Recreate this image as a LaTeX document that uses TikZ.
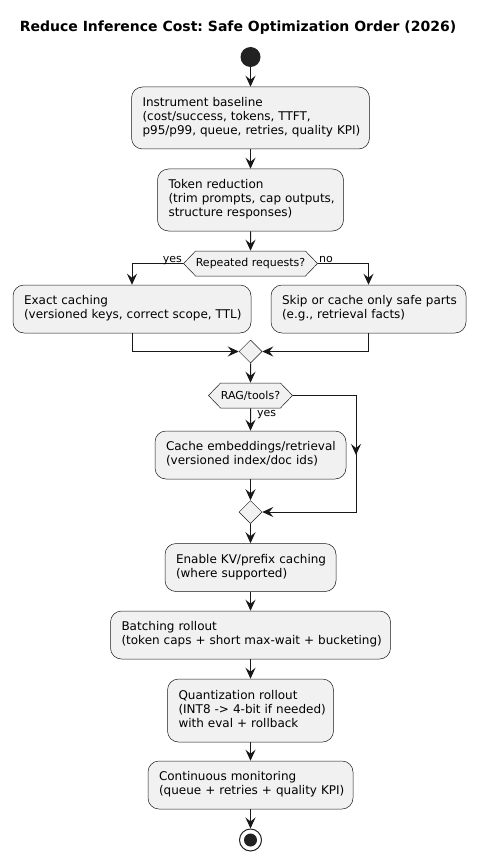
\documentclass[tikz,border=0pt]{standalone}
\usepackage{fontspec}
\setmainfont{DejaVu Sans}
\usetikzlibrary{arrows.meta,shapes.geometric,shapes.symbols}
\definecolor{actfill}{HTML}{F1F1F1}
\definecolor{actline}{HTML}{181818}
\definecolor{startc}{HTML}{222222}
\newcommand\lns[1]{\begin{tabular}{@{}l@{}}#1\end{tabular}}
\frenchspacing
\begin{document}
\begin{tikzpicture}[x=1pt,y=-1pt,
  act/.style={draw=actline, line width=0.5pt, fill=actfill, rounded corners=11pt,
    inner xsep=11pt, inner ysep=0pt, align=left, font=\fontsize{12}{14}\selectfont, text=black},
  arr/.style={draw=actline, line width=1pt, -{Stealth[length=11pt,width=10pt,inset=4pt]}},
  plain/.style={draw=actline, line width=1pt},
  hex/.style={shape=signal, signal to=east and west, signal pointer angle=92,
    draw=actline, line width=0.5pt, fill=actfill, inner sep=0pt, font=\fontsize{11}{13}\selectfont},
  merge/.style={diamond, draw=actline, line width=0.5pt, fill=actfill,
    minimum width=23pt, minimum height=23pt, inner sep=0pt},
  lbl/.style={font=\fontsize{11}{13}\selectfont, inner sep=0pt}]
\useasboundingbox (0,0) rectangle (478,861);

\node[font=\fontsize{14}{17}\selectfont\bfseries] (title) at (238,28) {Reduce Inference Cost: Safe Optimization Order (2026)};

\node[circle, fill=startc, minimum size=20pt, inner sep=0pt] (start) at (250.5,57) {};
\node[act, text width=216pt, minimum height=62pt] (b1) at (250.5,118)
  {\lns{Instrument baseline\\(cost/success, tokens, TTFT,\\p95/p99, queue, retries, quality KPI)}};
\node[act, text width=164pt, minimum height=62pt] (b2) at (250.5,200)
  {\lns{Token reduction\\(trim prompts, cap outputs,\\structure responses)}};
\node[hex, minimum width=134pt, minimum height=25pt] (h1) at (250.5,263.5) {Repeated requests?};
\node[act, text width=216pt, minimum height=48pt] (b3) at (132,309)
  {\lns{Exact caching\\(versioned keys, correct scope, TTL)}};
\node[act, text width=173pt, minimum height=48pt] (b4) at (368.5,309)
  {\lns{Skip or cache only safe parts\\(e.g., retrieval facts)}};
\node[merge] (m1) at (250.5,351.5) {};
\node[hex, minimum width=84pt, minimum height=25pt] (h2) at (250.5,395.5) {RAG/tools?};
\node[act, text width=169pt, minimum height=48pt] (b5) at (250.5,455)
  {\lns{Cache embeddings/retrieval\\(versioned index/doc ids)}};
\node[merge] (m2) at (250.5,512) {};
\node[act, text width=149pt, minimum height=48pt] (b6) at (250.5,567.5)
  {\lns{Enable KV/prefix caching\\(where supported)}};
\node[act, text width=258pt, minimum height=48pt] (b7) at (250.5,635)
  {\lns{Batching rollout\\(token caps + short max-wait + bucketing)}};
\node[act, text width=144pt, minimum height=63pt] (b8) at (250.5,710.5)
  {\lns{Quantization rollout\\(INT8 -> 4-bit if needed)\\with eval + rollback}};
\node[act, text width=183pt, minimum height=48pt] (b9) at (250.5,785)
  {\lns{Continuous monitoring\\(queue + retries + quality KPI)}};
\node[circle, draw=startc, line width=1pt, fill=white, minimum size=22pt, inner sep=0pt] (end) at (250.5,840) {};
\node[circle, fill=startc, minimum size=13pt, inner sep=0pt] (endin) at (end.center) {};

\draw[arr] (start) -- (b1);
\draw[arr] (b1) -- (b2);
\draw[arr] (b2) -- (h1);
\draw[arr] (h1.west) -| (b3.north);
\draw[arr] (h1.east) -| (b4.north);
\node[lbl, anchor=base east] (ly1) at ([xshift=-1pt,yshift=1.5pt]h1.west) {yes};
\node[lbl, anchor=base west] (ln1) at ([xshift=1pt,yshift=1.5pt]h1.east) {no};
\draw[arr] (b3.south) |- (m1.west);
\draw[arr] (b4.south) |- (m1.east);
\draw[arr] (m1) -- (h2);
\draw[arr] (h2) -- (b5);
\node[lbl, anchor=base west] (ly2) at (257,416) {yes};
\coordinate (c1) at (356,395.5);
\coordinate (c2) at (356,455);
\draw[arr] (h2.east) -- (c1) |- (m2.east);
\draw[arr] (c1) -- (c2);
\draw[arr] (b5) -- (m2);
\draw[arr] (m2) -- (b6);
\draw[arr] (b6) -- (b7);
\draw[arr] (b7) -- (b8);
\draw[arr] (b8) -- (b9);
\draw[arr] (b9) -- (end);
\end{tikzpicture}
\end{document}
